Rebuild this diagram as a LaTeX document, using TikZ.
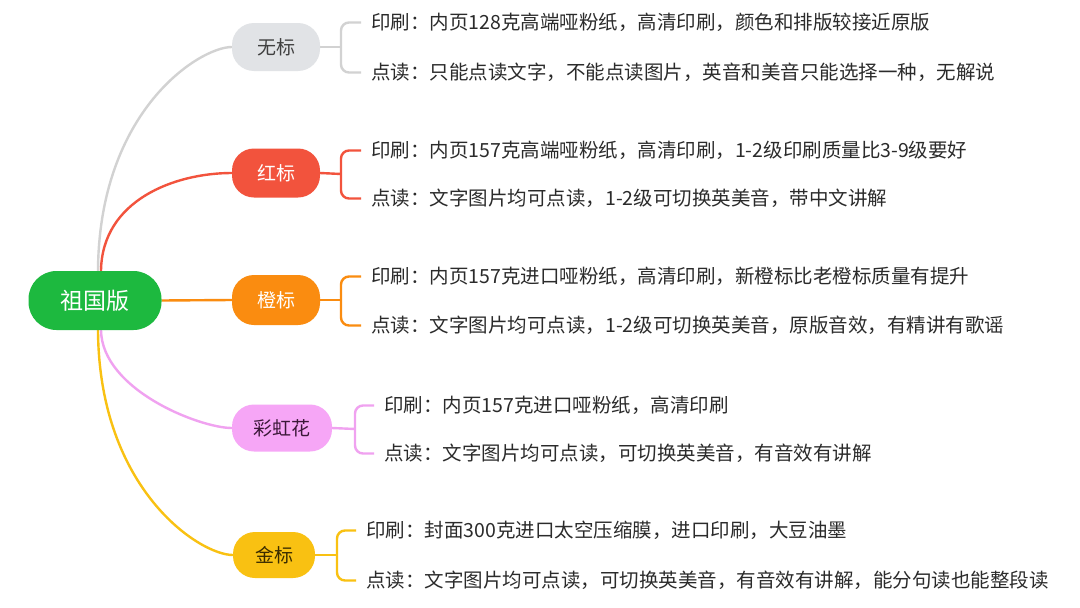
\documentclass[tikz,border=0pt]{standalone}
\usepackage{fontspec}
\setmainfont{Noto Sans CJK SC}
\usetikzlibrary{backgrounds}
\definecolor{cgreen}{HTML}{1DB93F}
\definecolor{cgray}{HTML}{E1E3E6}
\definecolor{cgrayline}{HTML}{D2D2D2}
\definecolor{cgraytext}{HTML}{404040}
\definecolor{cred}{HTML}{F2533D}
\definecolor{corange}{HTML}{FA8C10}
\definecolor{cpink}{HTML}{F6A6F6}
\definecolor{cpinkline}{HTML}{F0A2F0}
\definecolor{cpinktext}{HTML}{3B1838}
\definecolor{cgold}{HTML}{F9C112}
\definecolor{cgoldtext}{HTML}{3A2C00}
\definecolor{ctext}{HTML}{2B2B2B}
\begin{document}
\begin{tikzpicture}[x=1pt,y=-1pt,
  pill/.style={rounded corners=22pt,inner sep=0pt,minimum height=48pt,
    font=\fontsize{19}{22}\selectfont},
  rootpill/.style={rounded corners=28pt,inner sep=0pt,minimum width=133pt,
    minimum height=59pt,fill=cgreen,text=white,font=\fontsize{23}{26}\selectfont},
  info/.style={anchor=west,inner sep=0pt,text=ctext,font=\fontsize{19.5}{23}\selectfont},
  link/.style={line width=2.4pt},
  brk/.style={line width=2.4pt,rounded corners=8pt}]
\useasboundingbox (0,0) rectangle (1080,608);

% nodes
\node[rootpill] (root) at (95,300.5) {祖国版};
\node[pill,minimum width=88pt,fill=cgray,text=cgraytext] (n1) at (276,47) {无标};
\node[pill,minimum width=88pt,minimum height=49pt,fill=cred,text=white] (n2) at (276,173) {红标};
\node[pill,minimum width=88pt,minimum height=50pt,fill=corange,text=white] (n3) at (276,300) {橙标};
\node[pill,minimum width=100pt,minimum height=47pt,fill=cpink,text=cpinktext] (n4) at (282,428) {彩虹花};
\node[pill,minimum width=82pt,minimum height=46pt,fill=cgold,text=cgoldtext] (n5) at (274,555) {金标};

% leaf texts
\node[info] (t1a) at (371,22.5) {印刷：内页128克高端哑粉纸，高清印刷，颜色和排版较接近原版};
\node[info] (t1b) at (371,72.5) {点读：只能点读文字，不能点读图片，英音和美音只能选择一种，无解说};
\node[info] (t2a) at (371,150.5) {印刷：内页157克高端哑粉纸，高清印刷，1-2级印刷质量比3-9级要好};
\node[info] (t2b) at (371,198.5) {点读：文字图片均可点读，1-2级可切换英美音，带中文讲解};
\node[info] (t3a) at (371,276.5) {印刷：内页157克进口哑粉纸，高清印刷，新橙标比老橙标质量有提升};
\node[info] (t3b) at (371,325.5) {点读：文字图片均可点读，1-2级可切换英美音，原版音效，有精讲有歌谣};
\node[info] (t4a) at (384,405.5) {印刷：内页157克进口哑粉纸，高清印刷};
\node[info] (t4b) at (384,453.5) {点读：文字图片均可点读，可切换英美音，有音效有讲解};
\node[info] (t5a) at (366,530.5) {印刷：封面300克进口太空压缩膜，进口印刷，大豆油墨};
\node[info] (t5b) at (366,580.5) {点读：文字图片均可点读，可切换英美音，有音效有讲解，能分句读也能整段读};

% connectors behind the nodes
\begin{scope}[on background layer]
\fill[white] (0,0) rectangle (1080,608);
\draw[link,cgrayline] ([xshift=3pt]root.north) .. controls (99,110) and (200,47) .. (n1.west);
\draw[link,cred] ([xshift=6pt]root.north) .. controls (102,200) and (175,173) .. (n2.west);
\draw[link,corange] (root.east) -- (n3.west);
\draw[link,cpinkline] ([xshift=6pt]root.south) .. controls (102,390) and (200,428) .. (n4.west);
\draw[link,cgold] ([xshift=3pt]root.south) .. controls (99,490) and (200,555) .. (n5.west);

% brackets
\coordinate (b1) at (341,47);
\coordinate (b2) at (341,174);
\coordinate (b3) at (341,300);
\coordinate (b4) at (355,429);
\coordinate (b5) at (337,555);
\draw[link,cgrayline] (n1.east) -- (b1);
\draw[brk,cgrayline] ([xshift=-10pt]t1a.west) -| (b1) |- ([xshift=-10pt]t1b.west);
\draw[link,cred] (n2.east) -- (b2);
\draw[brk,cred] ([xshift=-10pt]t2a.west) -| (b2) |- ([xshift=-10pt]t2b.west);
\draw[link,corange] (n3.east) -- (b3);
\draw[brk,corange] ([xshift=-10pt]t3a.west) -| (b3) |- ([xshift=-10pt]t3b.west);
\draw[link,cpinkline] (n4.east) -- (b4);
\draw[brk,cpinkline] ([xshift=-10pt]t4a.west) -| (b4) |- ([xshift=-10pt]t4b.west);
\draw[link,cgold] (n5.east) -- (b5);
\draw[brk,cgold] ([xshift=-10pt]t5a.west) -| (b5) |- ([xshift=-10pt]t5b.west);
\end{scope}
\end{tikzpicture}
\end{document}
